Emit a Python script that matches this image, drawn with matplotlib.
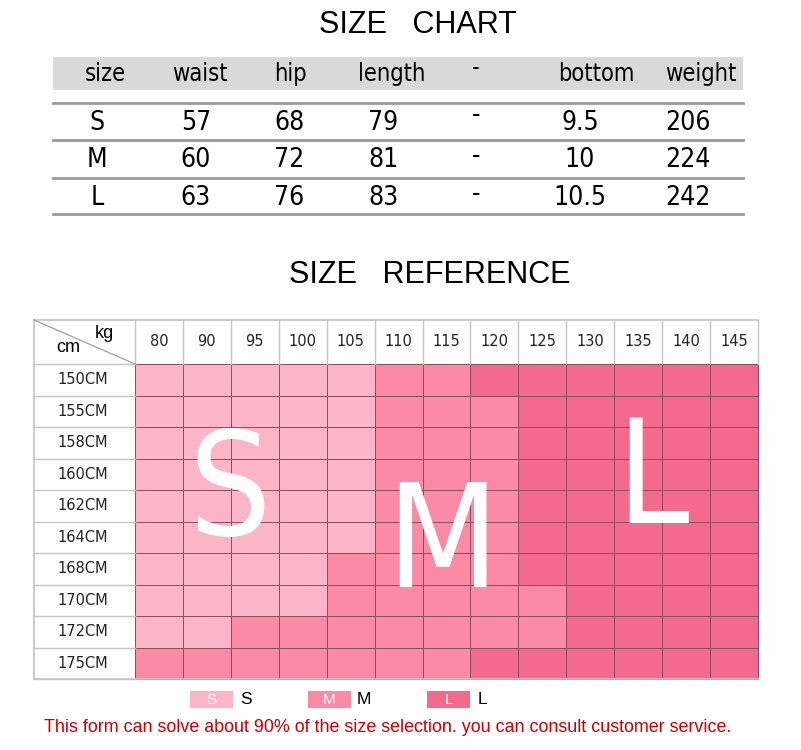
import numpy as np
import matplotlib
matplotlib.use('Agg')
import matplotlib.pyplot as plt
from matplotlib import font_manager
from matplotlib.colors import ListedColormap
from matplotlib.patches import Rectangle

# size chart table
table_cols = ['size', 'waist', 'hip', 'length', '-', 'bottom', 'weight']
sizes = ['S', 'M', 'L']
waist = [57, 60, 63]
hip = [68, 72, 76]
length = [79, 81, 83]
bottom = ['9.5', '10', '10.5']
weight = [206, 224, 242]

# size reference grid
weights_kg = [80, 90, 95, 100, 105, 110, 115, 120, 125, 130, 135, 140, 145]
heights = ['150CM', '155CM', '158CM', '160CM', '162CM', '164CM',
           '168CM', '170CM', '172CM', '175CM']
size_grid = ['SSSSSMMLLLLLL',
             'SSSSSMMMLLLLL',
             'SSSSSMMMLLLLL',
             'SSSSSMMMLLLLL',
             'SSSSSMMMLLLLL',
             'SSSSSMMMLLLLL',
             'SSSSMMMMLLLLL',
             'SSSSMMMMMLLLL',
             'SSMMMMMMMLLLL',
             'MMMMMMMLLLLLL']
size_colors = {'S': '#fbb4c8', 'M': '#fb8aa5', 'L': '#f36a8c'}
note = 'This form can solve about 90% of the size selection. you can consult customer service.'

# pick a narrow font if one is installed
names = {f.name for f in font_manager.fontManager.ttflist}
cond = [f for f in font_manager.fontManager.ttflist
        if f.name == 'DejaVu Sans' and f.stretch == 'condensed' and f.weight == 400]
if 'Liberation Sans Narrow' in names:
    narrow = dict(family=['Liberation Sans Narrow', 'DejaVu Sans'])
elif cond:
    narrow = dict(family=['DejaVu Sans'], fontstretch='condensed')
else:
    narrow = dict(family=['Liberation Sans', 'DejaVu Sans'])
arial = ['Liberation Sans', 'DejaVu Sans']

W, H = 801, 750
fig = plt.figure(figsize=(W / 100, H / 100), dpi=100)
ax = fig.add_axes([0, 0, 1, 1])
ax.set_xlim(0, W)
ax.set_ylim(H, 0)
ax.axis('off')

# ---- SIZE CHART ----
ax.text(418, 25, 'SIZE   CHART', ha='center', va='center', fontsize=22, family=arial)
ax.add_patch(Rectangle((53, 57), 690, 33, color='#d9d9d9', lw=0))
col_x = [105, 200, 290, 392, 476, 596, 701]
for x, c in zip(col_x, table_cols):
    yy = 68 if c == '-' else 74
    ax.text(x, yy, c, ha='center', va='center', fontsize=17, **narrow)
for y in [103, 140, 178, 214]:
    ax.plot([53, 743], [y, y], color='#9a9a9a', lw=2)
val_x = [97, 196, 289, 383, 476, 580, 688]
row_y = [123, 160, 198]
for i, y in enumerate(row_y):
    row = [sizes[i], waist[i], hip[i], length[i], '-', bottom[i], weight[i]]
    for j, (x, v) in enumerate(zip(val_x, row)):
        yy = y
        if j == 4:
            yy = y - 8 if i == 0 else y - 4
        ax.text(x, yy, str(v), ha='center', va='center', fontsize=19, **narrow)

# ---- SIZE REFERENCE ----
ax.text(430, 275, 'SIZE   REFERENCE', ha='center', va='center', fontsize=22, family=arial)

gx0, gx1 = 135, 758
gy0, gy1 = 364, 679
lx0, hy0 = 34, 320
nc, nr = len(weights_kg), len(heights)
xe = np.linspace(gx0, gx1, nc + 1)
ye = np.linspace(gy0, gy1, nr + 1)
codes = np.array([['SML'.index(ch) for ch in row] for row in size_grid])
cmap = ListedColormap([size_colors['S'], size_colors['M'], size_colors['L']])
ax.pcolormesh(xe, ye, codes, cmap=cmap, vmin=-0.5, vmax=2.5,
              edgecolors='#8e4e60', linewidth=0.6)

# header and row label cells
light = '#c4c4c4'
for x in xe:
    ax.plot([x, x], [hy0, gy0], color=light, lw=1)
ax.plot([lx0, gx1], [hy0, hy0], color=light, lw=1.2)
ax.plot([lx0, lx0], [hy0, gy1], color=light, lw=1.2)
for y in ye:
    ax.plot([lx0, gx0], [y, y], color=light, lw=1)
ax.plot([lx0, gx1], [gy1, gy1], color=light, lw=1.2)
ax.plot([lx0, gx0], [hy0, gy0], color='#a0a0a0', lw=0.9)
ax.text(104, 333, 'kg', ha='center', va='center', fontsize=13, family=arial)
ax.text(68, 348, 'cm', ha='center', va='center', fontsize=13, family=arial)

for j, kg in enumerate(weights_kg):
    ax.text((xe[j] + xe[j + 1]) / 2, 342, str(kg), ha='center', va='center',
            fontsize=10.5, family='DejaVu Sans', color='#222222')
for i, h in enumerate(heights):
    ax.text(83, (ye[i] + ye[i + 1]) / 2, h, ha='center', va='center',
            fontsize=10.5, family='DejaVu Sans', color='#222222')

# big size letters (x centre, baseline)
for s, (x, y) in zip(sizes, [(230, 535), (442, 587), (652, 523)]):
    ax.text(x, y, s, ha='center', va='baseline', fontsize=104, color='white', **narrow)

# legend
for s, x in zip(sizes, [190, 308, 427]):
    ax.add_patch(Rectangle((x, 691), 43, 17, color=size_colors[s], lw=0))
    ax.text(x + 21.5, 700, s, ha='center', va='center', fontsize=11, color='white', family=arial)
    ax.text(x + 56 if s != 'L' else x + 55, 700, s, ha='center', va='center', fontsize=12.5, family=arial)

ax.text(388, 727, note, ha='center', va='center', fontsize=12.9, color='#cc0000', family=arial)

fig.savefig('out.png', dpi=100)
